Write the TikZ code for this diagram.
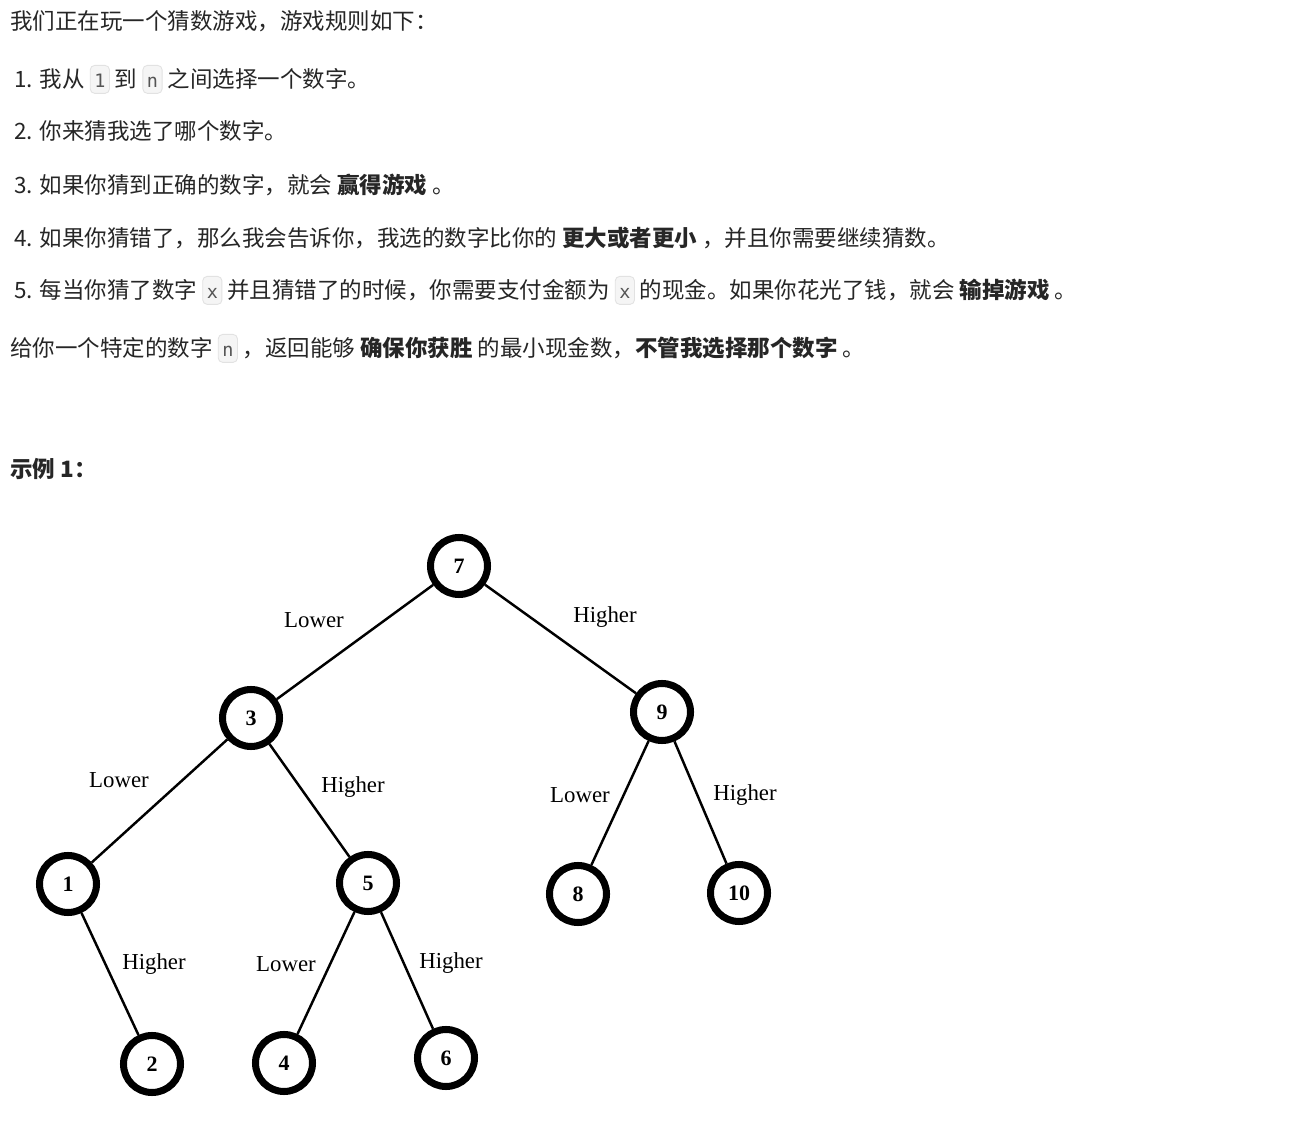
\documentclass[tikz,border=0pt]{standalone}
\usepackage{fontspec}
\setmainfont{Noto Sans CJK SC}
\setmonofont{DejaVu Sans Mono}
\newfontfamily\treefont{Liberation Serif}
\definecolor{ink}{RGB}{38,38,38}
\definecolor{codebg}{RGB}{245,245,245}
\definecolor{codeline}{RGB}{226,226,226}
\definecolor{codeink}{RGB}{85,85,85}
\tikzset{codebox/.style={draw=codeline, fill=codebg, rounded corners=2.5pt, line width=0.5pt,
    inner xsep=2.3pt, inner ysep=0pt, text height=12.85pt, text depth=3.05pt,
    text=codeink, font=\ttfamily\fontsize{10.5}{12}\selectfont}}
\newcommand{\code}[1]{\tikz[baseline=(c.base)]\node[codebox] (c) {#1};}

\begin{document}
\begin{tikzpicture}[
    txt/.style={anchor=base west, inner sep=0pt, text=ink, font=\fontsize{12.8}{15}\selectfont},
    numnode/.style={circle, draw=black, line width=4pt, minimum size=1.14cm, inner sep=0pt,
      font=\treefont\bfseries\fontsize{12.5}{15}\selectfont},
    lbl/.style={inner sep=0pt, text=black, font=\treefont\fontsize{13}{15}\selectfont},
    branch/.style={line width=1.4pt}]
  \fill[white] (0,0) rectangle (25.86,22.82);
  \useasboundingbox (0,0) rectangle (25.86,22.82);

  % rules text
  \node[txt] (intro) at (0.2,22.22) {我们正在玩一个猜数游戏，游戏规则如下：};
  \node[txt] (rule1) at (0.28,21.06) {1. 我从 \code{1} 到 \code{n} 之间选择一个数字。};
  \node[txt] (rule2) at (0.28,20.02) {2. 你来猜我选了哪个数字。};
  \node[txt] (rule3) at (0.28,18.94) {3. 如果你猜到正确的数字，就会 \textbf{赢得游戏} 。};
  \node[txt] (rule4) at (0.28,17.88) {4. 如果你猜错了，那么我会告诉你，我选的数字比你的 \textbf{更大或者更小} ，并且你需要继续猜数。};
  \node[txt] (rule5) at (0.28,16.84) {5. 每当你猜了数字 \code{x} 并且猜错了的时候，你需要支付金额为 \code{x} 的现金。如果你花光了钱，就会 \textbf{输掉游戏} 。};
  \node[txt] (task) at (0.2,15.68) {给你一个特定的数字 \code{n} ，返回能够 \textbf{确保你获胜} 的最小现金数，\textbf{不管我选择那个数字} 。};
  \node[txt] (example) at (0.2,13.26) {\textbf{示例 1：}};

  % tree
  \node[numnode] (n7) at (9.18,11.50) {7};
  \node[numnode] (n3) at (5.02,8.46) {3};
  \node[numnode] (n9) at (13.24,8.58) {9};
  \node[numnode] (n1) at (1.36,5.14) {1};
  \node[numnode] (n5) at (7.36,5.16) {5};
  \node[numnode] (n8) at (11.56,4.94) {8};
  \node[numnode] (n10) at (14.78,4.96) {10};
  \node[numnode] (n2) at (3.04,1.54) {2};
  \node[numnode] (n4) at (5.68,1.56) {4};
  \node[numnode] (n6) at (8.92,1.66) {6};

  \draw[branch] (n7) -- (n3);
  \draw[branch] (n7) -- (n9);
  \draw[branch] (n3) -- (n1);
  \draw[branch] (n3) -- (n5);
  \draw[branch] (n9) -- (n8);
  \draw[branch] (n9) -- (n10);
  \draw[branch] (n1) -- (n2);
  \draw[branch] (n5) -- (n4);
  \draw[branch] (n5) -- (n6);

  \node[lbl] (lo7) at (6.28,10.42) {Lower};
  \node[lbl] (hi7) at (12.10,10.48) {Higher};
  \node[lbl] (lo3) at (2.38,7.22) {Lower};
  \node[lbl] (hi3) at (7.06,7.08) {Higher};
  \node[lbl] (lo9) at (11.60,6.92) {Lower};
  \node[lbl] (hi9) at (14.90,6.92) {Higher};
  \node[lbl] (hi1) at (3.08,3.54) {Higher};
  \node[lbl] (lo5) at (5.72,3.54) {Lower};
  \node[lbl] (hi5) at (9.02,3.56) {Higher};
\end{tikzpicture}
\end{document}
